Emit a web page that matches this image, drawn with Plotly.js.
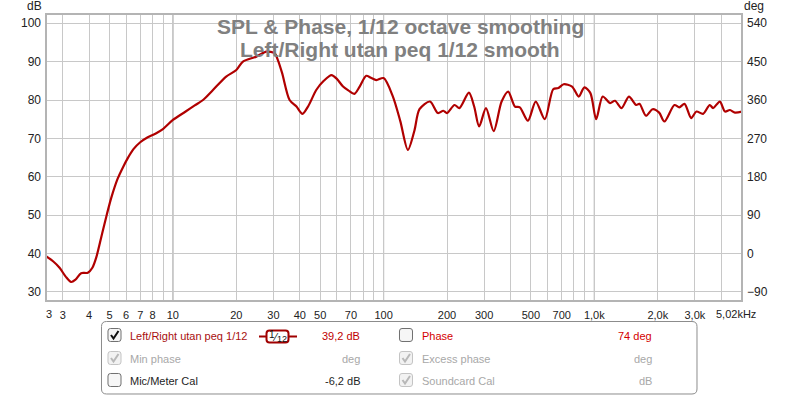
<!DOCTYPE html>
<html>
<head>
<meta charset="utf-8">
<script src="https://cdn.plot.ly/plotly-3.0.1.min.js"></script>
<style>
html,body{margin:0;padding:0;background:#fff;}
#chart{width:800px;height:396px;}
</style>
</head>
<body>
<div id="chart"></div>
<script>
// ---- data ----
var freqHz = [2.5, 2.7, 2.9, 3.1, 3.29, 3.45, 3.67, 3.95, 4.15, 4.33, 4.62, 4.85, 5.1, 5.47, 5.8, 6.1, 6.5, 7.0, 7.6, 8.3, 9.0, 10,
  11.5, 12.7, 13.9, 15.5, 17.9, 20, 21.5, 24.9, 27.8, 30.4, 31.5, 33, 35.8, 38.6, 41.2, 44, 47.9, 52, 56.6, 60, 64.2, 68, 72.6, 77,
  82.7, 87, 92.4, 100, 110.7, 120, 130.4, 140, 148, 166, 181, 192, 200, 217, 229, 254, 269, 284, 306, 333, 363, 390, 420, 443,
  484, 527, 582, 638, 675, 715, 784, 843, 897, 958, 1020, 1096, 1187, 1253, 1346, 1459, 1580, 1637, 1758, 1890, 2030, 2150,
  2400, 2530, 2680, 2880, 3050, 3280, 3530, 3660, 3940, 4170, 4400, 4650, 5020];
var splDb = [39.3, 38.0, 36.3, 34.0, 32.6, 33.2, 34.9, 35.0, 36.3, 39.0, 45.3, 50.0, 54.5, 59.5, 62.5, 64.8, 67.2, 69.0, 70.3, 71.3, 72.5, 74.8,
  77.0, 78.6, 80.0, 82.6, 86.1, 87.8, 90.0, 91.3, 92.6, 92.2, 90.4, 87.0, 80.0, 78.3, 76.4, 78.5, 82.6, 85.0, 86.5, 85.5, 83.5, 82.5, 81.6, 83.5,
  86.3, 85.8, 85.2, 85.7, 80.9, 74.5, 67.0, 72.0, 77.6, 79.6, 76.6, 77.2, 76.6, 78.7, 77.9, 81.9, 78.3, 73.1, 77.9, 71.9, 79.6, 82.2, 78.3, 78.1,
  74.6, 79.6, 75.0, 82.8, 83.1, 84.1, 83.5, 80.9, 83.3, 81.8, 75.0, 80.9, 79.2, 79.8, 77.9, 80.9, 78.7, 79.0, 75.9, 77.6, 76.7, 74.4,
  78.7, 78.1, 79.0, 75.3, 77.0, 76.4, 78.7, 77.9, 79.6, 77.0, 77.4, 76.7, 77.0];

var xTickVals = [3,4,5,6,7,8,10,20,30,40,50,70,100,200,300,500,700,1000,2000,3000];
var xTickText = ['3','4','5','6','7','8','10','20','30','40','50','70','100','200','300','500','700','1,0k','2,0k','3,0k'];
var xMinorGrid = [9,60,80,90,400,600,800,900,4000];
var xEdgeLabels = ['3', '5,02kHz'];
var decadeLines = [10, 100, 1000];
var dbTicks = [30,40,50,60,70,80,90,100];
var phaseTicks = [-90,0,90,180,270,360,450,540];
var titleLines = ['SPL & Phase, 1/12 octave smoothing', 'Left/Right utan peq 1/12 smooth'];
var smoothingIcon = ['1', '⁄', '12'];
var legendLeft = [
  {label:'Left/Right utan peq 1/12', value:'39,2 dB', state:'on'},
  {label:'Min phase', value:'deg', state:'grey'},
  {label:'Mic/Meter Cal', value:'-6,2 dB', state:'off'}
];
var legendRight = [
  {label:'Phase', value:'74 deg', state:'offred'},
  {label:'Excess phase', value:'deg', state:'grey'},
  {label:'Soundcard Cal', value:'dB', state:'grey'}
];

// ---- geometry helpers (pixel -> paper) ----
var ML = 46, MT = 14, PW = 696, PH = 287;
function X(px){ return (px - ML) / PW; }
function Y(py){ return (MT + PH - py) / PH; }
function pt(x,y){ return X(x).toFixed(5) + ',' + Y(y).toFixed(5); }
function rrect(x0,y0,x1,y1,r){
  return 'M' + pt(x0+r,y0) + ' L' + pt(x1-r,y0) + ' Q' + pt(x1,y0) + ' ' + pt(x1,y0+r) +
    ' L' + pt(x1,y1-r) + ' Q' + pt(x1,y1) + ' ' + pt(x1-r,y1) +
    ' L' + pt(x0+r,y1) + ' Q' + pt(x0,y1) + ' ' + pt(x0,y1-r) +
    ' L' + pt(x0,y0+r) + ' Q' + pt(x0,y0) + ' ' + pt(x0+r,y0) + ' Z';
}

var FONT = 'Liberation Sans, Arial, sans-serif';
var dbMin = 27.65, dbMax = 102.4;

var traces = [
  {x: freqHz, y: splDb, type: 'scatter', mode: 'lines',
   line: {color: '#b00000', width: 2.2, shape: 'spline', smoothing: 0.8},
   hoverinfo: 'skip', showlegend: false},
  {x: [], y: [], type: 'scatter', mode: 'lines', yaxis: 'y2', showlegend: false, hoverinfo: 'skip'}
];

var shapes = [];
decadeLines.forEach(function(f){
  shapes.push({type:'line', xref:'x', yref:'paper', x0:f, x1:f, y0:0, y1:1,
    line:{color:'#7c7c7c', width:1}, layer:'between'});
});
// plot frame
shapes.push({type:'rect', xref:'paper', yref:'paper', x0:0, x1:1, y0:0, y1:1,
  line:{color:'#b4b4b4', width:2}, layer:'above'});

var annotations = [];
function txt(x, y, text, size, color, anchor){
  annotations.push({xref:'paper', yref:'paper', x:X(x), y:Y(y), text:text, showarrow:false,
    xanchor:anchor || 'center', yanchor:'middle', font:{family:FONT, size:size, color:color}});
}
// titles
txt(400, 26.5, '<b>'+titleLines[0]+'</b>', 21, '#808080');
txt(400, 49, '<b>'+titleLines[1]+'</b>', 21, '#808080');
// unit labels
txt(34.5, 6, 'dB', 12, '#222');
txt(754, 6, 'deg', 12, '#222');
// edge x labels
txt(49, 314, xEdgeLabels[0], 11, '#222');
txt(736, 314, xEdgeLabels[1], 11, '#222');

// legend panel
shapes.push({type:'path', xref:'paper', yref:'paper', path: rrect(101.5, 321.5, 697, 394, 5),
  line:{color:'#8c8c8c', width:1}, fillcolor:'#ffffff', layer:'above'});

var rowY = [336, 359, 381];
function checkbox(cx, cy, state){
  var x0 = cx - 6.5, y0 = cy - 6.5;
  var border = (state === 'grey') ? '#c4c4c4' : '#707070';
  var fill = (state === 'grey') ? '#f2f2f2' : '#f6f6f6';
  shapes.push({type:'path', xref:'paper', yref:'paper', path: rrect(x0, y0, x0+13, y0+13, 2.5),
    line:{color:border, width:1}, fillcolor:fill, layer:'above'});
  if (state === 'on' || state === 'grey') {
    var c = (state === 'grey') ? '#b8b8b8' : '#111111';
    shapes.push({type:'path', xref:'paper', yref:'paper',
      path: 'M' + pt(x0+3, y0+6.5) + ' L' + pt(x0+5.5, y0+10) + ' L' + pt(x0+10.5, y0+2.5),
      line:{color:c, width:2}, layer:'above'});
  }
}
function legendColors(state){
  if (state === 'on') return ['#a80f0f', '#c00000'];
  if (state === 'offred') return ['#d40000', '#d40000'];
  if (state === 'grey') return ['#a8a8a8', '#a8a8a8'];
  return ['#1e1e1e', '#1e1e1e'];
}
legendLeft.forEach(function(r, i){
  var cy = rowY[i];
  checkbox(114.5, cy - 1, r.state);
  var col = legendColors(r.state);
  txt(128, cy, r.label, 11, col[0], 'left');
  txt(362, cy, r.value, 11, col[1], 'right');
});
legendRight.forEach(function(r, i){
  var cy = rowY[i];
  checkbox(406, cy - 1, r.state);
  var col = legendColors(r.state);
  txt(420, cy, r.label, 11, col[0], 'left');
  txt(654, cy, r.value, 11, col[1], 'right');
});
// smoothing icon "1/12"
shapes.push({type:'line', xref:'paper', yref:'paper', x0:X(259), x1:X(297), y0:Y(336.5), y1:Y(336.5),
  line:{color:'#a00000', width:2}, layer:'above'});
shapes.push({type:'path', xref:'paper', yref:'paper', path: rrect(266.5, 330.5, 288.5, 342.5, 3),
  line:{color:'#a00000', width:2}, fillcolor:'#ffffff', layer:'above'});
txt(271.5, 334.5, smoothingIcon[0], 10, '#111');
txt(275, 336.5, smoothingIcon[1], 11, '#111');
txt(281.5, 338.5, smoothingIcon[2], 9, '#111');

var layout = {
  width: 800, height: 396,
  margin: {l: ML, r: 800 - ML - PW, t: MT, b: 396 - MT - PH, pad: 0},
  paper_bgcolor: '#ffffff', plot_bgcolor: '#ffffff',
  showlegend: false,
  xaxis: {type: 'log', range: [Math.log10(2.5), Math.log10(5020)],
    tickmode: 'array', tickvals: xTickVals, ticktext: xTickText,
    showgrid: true, gridcolor: '#c8c8c8', gridwidth: 1, zeroline: false,
    minor: {tickmode: 'array', tickvals: xMinorGrid, showgrid: true, gridcolor: '#c8c8c8', gridwidth: 1, ticks: ''},
    ticks: '', showline: false, ticklabelstandoff: 6,
    tickfont: {family: FONT, size: 11, color: '#222'}},
  yaxis: {range: [dbMin, dbMax], tickmode: 'array', tickvals: dbTicks,
    showgrid: true, gridcolor: '#c8c8c8', gridwidth: 1, zeroline: false,
    ticks: '', showline: false, ticklabelstandoff: 4,
    tickfont: {family: FONT, size: 12, color: '#222'}},
  yaxis2: {overlaying: 'y', side: 'right', range: [(dbMin - 40) * 9, (dbMax - 40) * 9],
    tickmode: 'array', tickvals: phaseTicks, showgrid: false, zeroline: false,
    ticks: '', showline: false, ticklabelstandoff: 4,
    tickfont: {family: FONT, size: 12, color: '#222'}},
  shapes: shapes,
  annotations: annotations
};

Plotly.newPlot('chart', traces, layout, {staticPlot: true, displayModeBar: false});
</script>
</body>
</html>
